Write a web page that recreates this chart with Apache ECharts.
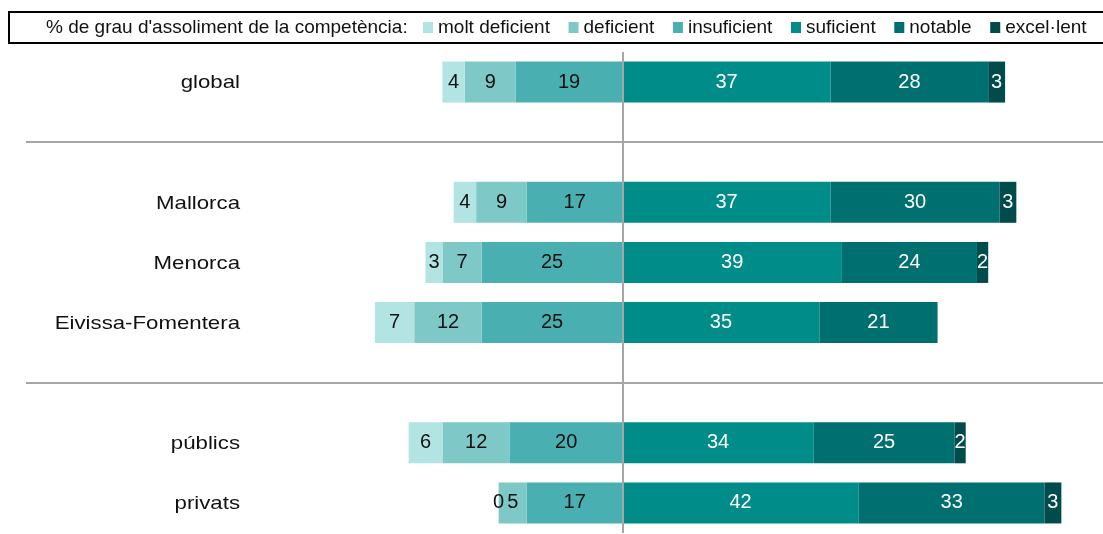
<!DOCTYPE html>
<html>
<head>
<meta charset="utf-8">
<script src="https://cdn.jsdelivr.net/npm/echarts@6/dist/echarts.min.js"></script>
<style>
  html, body { margin: 0; padding: 0; background: #fff; }
  #chart { width: 1103px; height: 534px; }
</style>
</head>
<body>
<div id="chart"></div>
<script>
// categories, top to bottom; '' rows are the gaps holding the separators
const categories = ["global", "", "Mallorca", "Menorca", "Eivissa-Fomentera", "", "públics", "privats"];
const gapRows = [1, 5];

const moltDeficient = [4, null, 4, 3, 7, null, 6, 0];
const deficient     = [9, null, 9, 7, 12, null, 12, 5];
const insuficient   = [19, null, 17, 25, 25, null, 20, 17];
const suficient     = [37, null, 37, 39, 35, null, 34, 42];
const notable       = [28, null, 30, 24, 21, null, 25, 33];
const excellent     = [3, null, 3, 2, null, null, 2, 3];

const legendTitle = "% de grau d'assoliment de la competència:";
const FONT = "'Liberation Sans', Arial, sans-serif";

const neg = arr => arr.map(v => (v === null ? null : -v));

function makeSeries(name, data, color, textColor) {
  return {
    name: name,
    type: "bar",
    stack: "total",
    data: data,
    barWidth: 41,
    itemStyle: { color: color },
    label: {
      show: true,
      position: "inside",
      color: textColor,
      fontFamily: FONT,
      fontSize: 20,
      formatter: p => Math.abs(p.value),
    },
    emphasis: { disabled: true },
  };
}

const chart = echarts.init(document.getElementById("chart"));

const series = [
  // left side, from the centre outwards
  makeSeries("insuficient", neg(insuficient), "#4aafb0", "#111"),
  makeSeries("deficient", neg(deficient), "#7fc8c8", "#111"),
  makeSeries("molt deficient", neg(moltDeficient), "#b3e4e4", "#111"),
  makeSeries("suficient", suficient, "#008d8a", "#fff"),
  makeSeries("notable", notable, "#006f6f", "#fff"),
  makeSeries("excel·lent", excellent, "#004b4b", "#fff"),
];

// centre line and the group separators
series[0].markLine = {
  silent: true,
  symbol: "none",
  label: { show: false },
  lineStyle: { color: "#a6a6a6", width: 2, type: "solid" },
  data: [{ xAxis: 0 }].concat(gapRows.map(r => ({ yAxis: r }))),
};

const frame = [
  {
    id: "legendBox",
    type: "rect",
    shape: { x: 9, y: 12, width: 1100, height: 31 },
    style: { fill: "none", stroke: "#000", lineWidth: 2 },
  },
  {
    id: "legendTitle",
    type: "text",
    x: 46,
    y: 28,
    style: { text: legendTitle, fontFamily: FONT, fontSize: 19, fill: "#111", verticalAlign: "middle" },
  },
];

chart.setOption({
  animation: false,
  textStyle: { fontFamily: FONT },
  grid: { left: 26, right: 0, top: 52, bottom: 1 },
  legend: {
    data: ["molt deficient", "deficient", "insuficient", "suficient", "notable", "excel·lent"],
    left: 423,
    top: 18,
    padding: 0,
    itemWidth: 10,
    itemHeight: 11,
    itemGap: 18.6,
    icon: "rect",
    textStyle: { fontFamily: FONT, fontSize: 19, color: "#111" },
    selectedMode: false,
  },
  graphic: frame,
  xAxis: {
    type: "value",
    min: -106,
    max: 85.4,
    show: false,
  },
  yAxis: {
    type: "category",
    data: categories,
    inverse: true,
    axisLine: { show: false },
    axisTick: { show: false },
    splitLine: { show: false },
    axisLabel: { show: false },
  },
  series: series,
});

// category names, placed at the axis positions, drawn a little wide like the original
const nameLabels = [];
categories.forEach((name, i) => {
  if (!name) return;
  const y = chart.convertToPixel({ yAxisIndex: 0 }, i);
  nameLabels.push({
    id: "cat" + i,
    type: "text",
    x: 240,
    y: y + 1,
    scaleX: 1.17,
    style: { text: name, fontFamily: FONT, fontSize: 19, fill: "#111", align: "right", verticalAlign: "middle" },
  });
});
chart.setOption({ graphic: frame.concat(nameLabels) });
</script>
</body>
</html>
